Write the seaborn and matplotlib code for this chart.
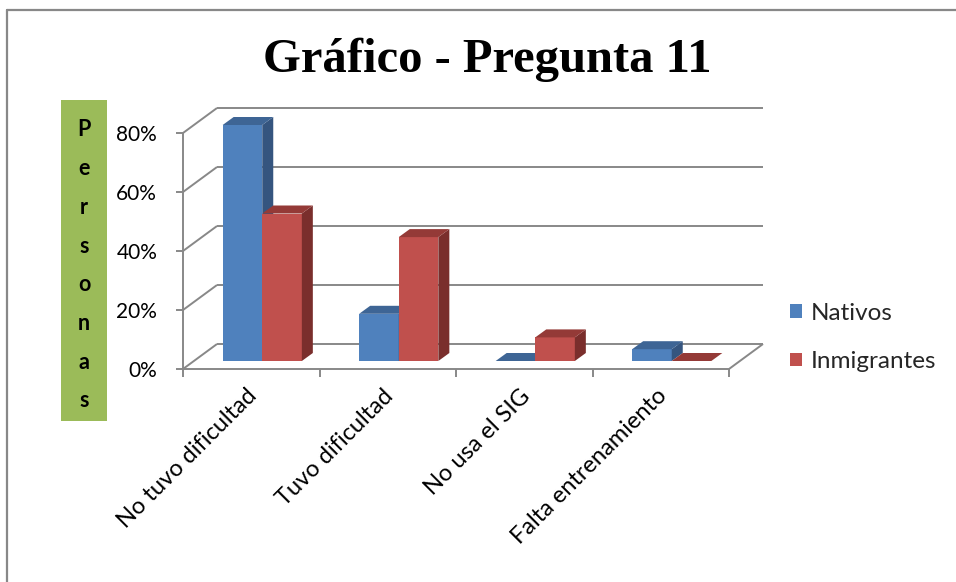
import matplotlib
matplotlib.use("Agg")
import matplotlib.pyplot as plt
from matplotlib.patches import Polygon, Rectangle
from matplotlib.lines import Line2D
from matplotlib.transforms import IdentityTransform, ScaledTranslation
import numpy as np
import pandas as pd
import seaborn as sns

# ---- data ----
categories = ["No tuvo dificultad", "Tuvo dificultad", "No usa el SIG", "Falta entrenamiento"]
series_names = ["Nativos", "Inmigrantes"]
nativos = [80, 16, 0, 4]
inmigrantes = [50, 42, 8, 0]
y_ticks = [0, 20, 40, 60, 80]
y_tick_labels = ["0%", "20%", "40%", "60%", "80%"]
axis_title = "Personas"
title = "Gráfico - Pregunta 11"

front_colors = {"Nativos": "#4F81BD", "Inmigrantes": "#C0504D"}
top_colors = {"Nativos": "#3E6595", "Inmigrantes": "#943A37"}
side_colors = {"Nativos": "#35557F", "Inmigrantes": "#7A2E2C"}
wall_color = "#888888"

df = pd.DataFrame({
    "categoria": categories * 2,
    "serie": [series_names[0]] * len(categories) + [series_names[1]] * len(categories),
    "valor": nativos + inmigrantes,
})

sns.set_theme(style="white")
plt.rcParams["font.family"] = ["Lato", "DejaVu Sans"]

W, H = 956, 582
fig = plt.figure(figsize=(W / 100, H / 100), dpi=100)
fig.patch.set_facecolor("white")

# axes = plane of the bar front faces
ax = fig.add_axes([194 / W, 221 / H, 546 / W, 236 / H])
sns.barplot(data=df, x="categoria", y="valor", hue="serie", palette=front_colors,
            width=0.58, saturation=1, linewidth=0, ax=ax)
ax.set_xlim(-0.5, len(categories) - 0.5)
ax.set_ylim(0, 80)
ax.set_facecolor("none")
for s in ax.spines.values():
    s.set_visible(False)
ax.set_xlabel("")
ax.set_ylabel("")

# depth offsets in pixels (display coords, y up)
FRONT = np.array([-11.0, -8.0])
BACK = np.array([23.0, 17.0])
BAR_DEPTH = np.array([11.0, 8.0])

T = ax.transData.transform


def wall_line(p0, p1, lw=1.4, z=0.5):
    ax.add_line(Line2D([p0[0], p1[0]], [p0[1], p1[1]], transform=IdentityTransform(),
                       color=wall_color, lw=lw, clip_on=False, zorder=z,
                       solid_capstyle="butt"))


x_lo, x_hi = -0.5, len(categories) - 0.5
# back wall gridlines and left wall diagonals
for v in y_ticks:
    wall_line(T((x_lo, v)) + BACK, T((x_hi, v)) + BACK)
    wall_line(T((x_lo, v)) + FRONT, T((x_lo, v)) + BACK)
    # value tick mark on the front axis
    p = T((x_lo, v)) + FRONT
    wall_line(p, p + np.array([-7, 0]))
# front vertical axis
wall_line(T((x_lo, 0)) + FRONT, T((x_lo, 80)) + FRONT)
# floor: front edge and right edge
wall_line(T((x_lo, 0)) + FRONT, T((x_hi, 0)) + FRONT)
wall_line(T((x_hi, 0)) + FRONT, T((x_hi, 0)) + BACK)
for xb in np.arange(x_lo, x_hi + 0.01, 1.0):
    p = T((xb, 0)) + FRONT
    wall_line(p, p + np.array([0, -8]))

# 3D faces on every bar
for k, (container, name) in enumerate(zip(ax.containers, series_names)):
    z = 2 + k
    for rect in container:
        rect.set_zorder(z)
        x0, w, h = rect.get_x(), rect.get_width(), rect.get_height()
        tl, tr = T((x0, h)), T((x0 + w, h))
        br = T((x0 + w, 0))
        top = [tl, tr, tr + BAR_DEPTH, tl + BAR_DEPTH]
        side = [br, tr, tr + BAR_DEPTH, br + BAR_DEPTH]
        ax.add_patch(Polygon(side, closed=True, transform=IdentityTransform(),
                             facecolor=side_colors[name], lw=0, clip_on=False, zorder=z))
        ax.add_patch(Polygon(top, closed=True, transform=IdentityTransform(),
                             facecolor=top_colors[name], lw=0, clip_on=False, zorder=z))

# tick labels
ax.set_yticks(y_ticks)
ax.set_yticklabels(y_tick_labels)
ax.tick_params(axis="y", length=0, pad=26.5, labelsize=15, labelcolor="#000000")
for lab in ax.get_yticklabels():
    lab.set_transform(lab.get_transform() + ScaledTranslation(0, -8 / 100, fig.dpi_scale_trans))

ax.set_xticks(range(len(categories)))
ax.set_xticklabels(categories)
ax.tick_params(axis="x", length=0, pad=17.5, labelsize=17, labelcolor="#000000")
for lab in ax.get_xticklabels():
    lab.set_rotation(45)
    lab.set_ha("right")
    lab.set_va("top")
    lab.set_rotation_mode("anchor")
    lab.set_transform(lab.get_transform() + ScaledTranslation(-16 / 100, 0, fig.dpi_scale_trans))

# legend
sns.move_legend(ax, loc="center left", bbox_to_anchor=(790 / W, 1 - 337.5 / H),
                bbox_transform=fig.transFigure, frameon=False, title=None,
                fontsize=17.5, handlelength=0.5, handleheight=0.5,
                handletextpad=0.37, labelspacing=1.12, borderpad=0, borderaxespad=0)

# vertical axis title box
fig.add_artist(Rectangle((61 / W, 1 - 421 / H), 46 / W, 321 / H,
                         transform=fig.transFigure, facecolor="#9BBB59", lw=0))
for i, ch in enumerate(axis_title):
    fig.text(84 / W, 1 - (130 + 38.7 * i) / H, ch, ha="center", va="center",
             fontsize=15.5, fontweight="bold", color="#000000")

# title
fig.text(487 / W, 1 - 60 / H, title, ha="center", va="center",
         family=["Liberation Serif", "DejaVu Serif"], fontweight="bold", fontsize=35,
         color="#000000")

# chart frame
fig.add_artist(Line2D([7 / W, 1.0], [1 - 9.5 / H, 1 - 9.5 / H], transform=fig.transFigure,
                      color=wall_color, lw=1.6))
fig.add_artist(Line2D([7 / W, 7 / W], [0, 1 - 9.5 / H], transform=fig.transFigure,
                      color=wall_color, lw=1.6))

fig.savefig("out.png", dpi=100, facecolor="white")
